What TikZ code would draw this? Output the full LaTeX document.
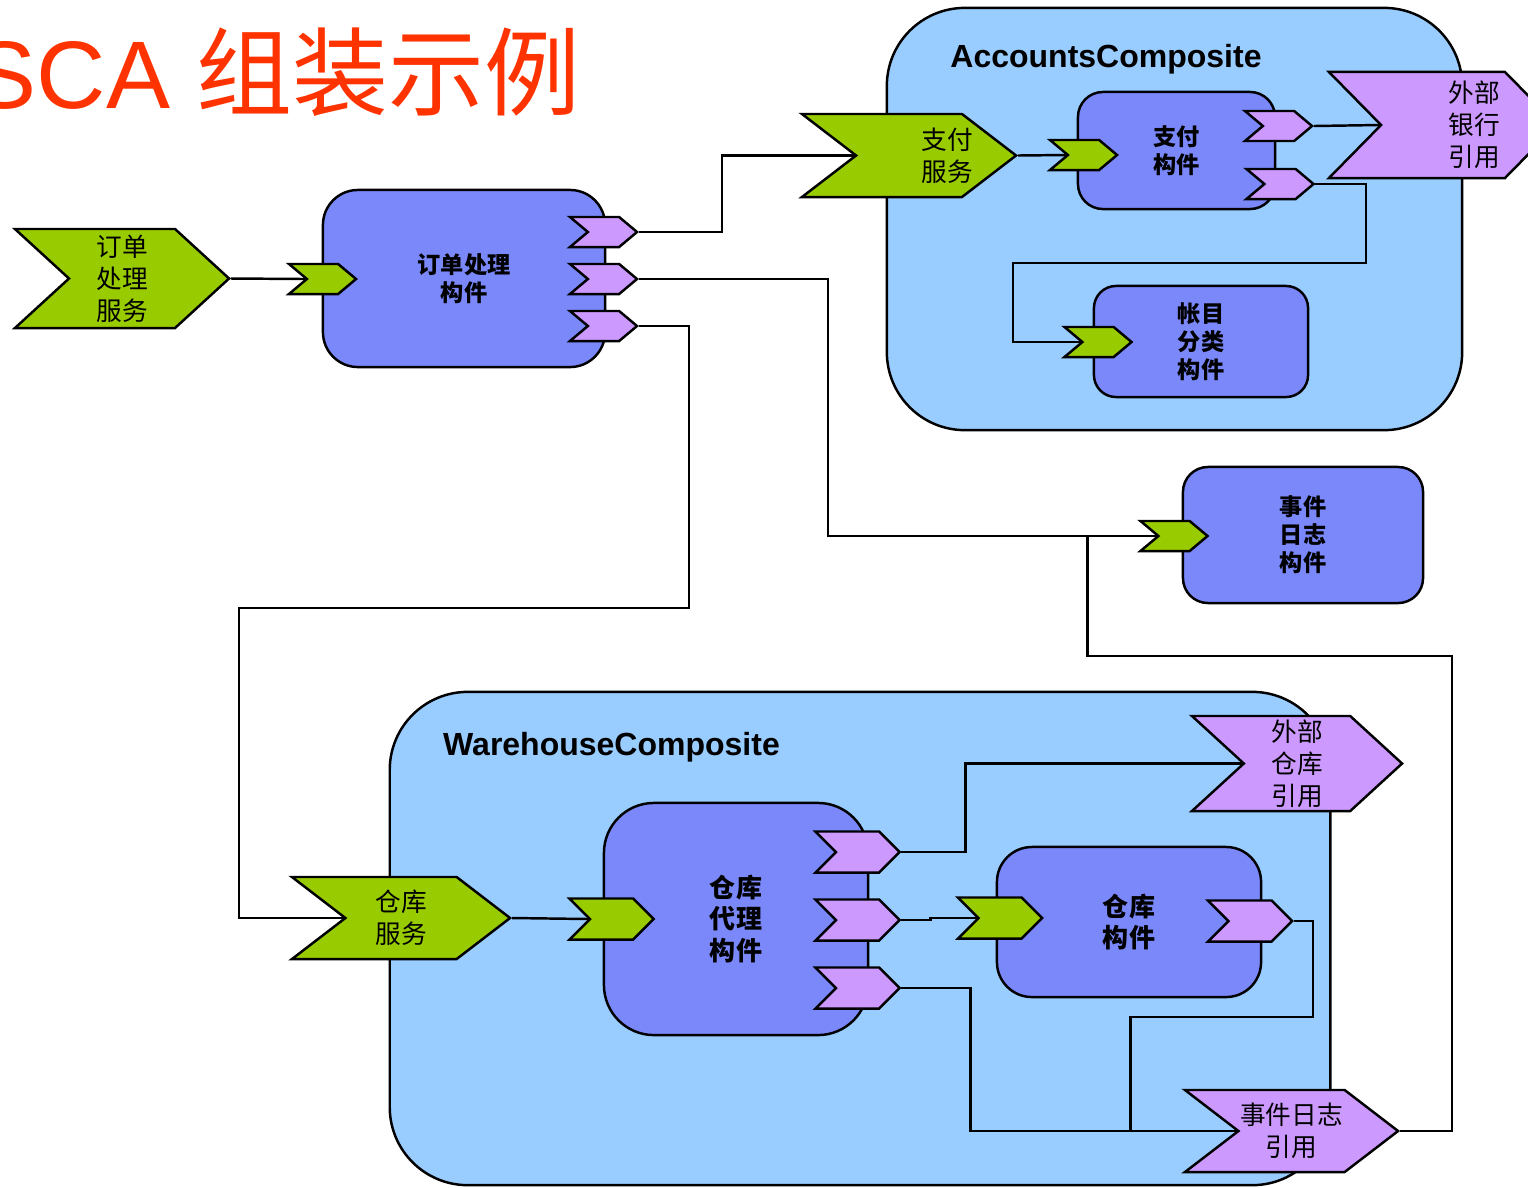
\documentclass[tikz,border=0pt]{standalone}
\usepackage{fontspec}
\setmainfont{Liberation Sans}
\newfontfamily\cjk{Noto Sans CJK SC}
\usetikzlibrary{shapes.symbols,positioning}
\definecolor{compblue}{HTML}{99CCFF}
\definecolor{partblue}{HTML}{7A88FA}
\definecolor{svcgreen}{HTML}{99CC00}
\definecolor{refpurple}{HTML}{CC99FF}
\definecolor{titlered}{HTML}{FF3300}
\tikzset{
  composite/.style={draw,fill=compblue,rounded corners=0.78cm,line width=0.7pt},
  component/.style={draw,fill=partblue,rounded corners=0.3cm,line width=0.7pt,inner sep=0pt,align=center,font=\cjk\bfseries\fontsize{6.6}{8}\selectfont},
  bigpart/.style={component,font=\cjk\bfseries\fontsize{7.4}{9}\selectfont},
  chevtext/.style={align=center,font=\cjk\fontsize{7.3}{9.1}\selectfont},
  chevron/.style={signal,signal from=west,signal to=east,draw,line width=0.7pt,inner sep=0pt,chevtext},
  service/.style={chevron,fill=svcgreen},
  reference/.style={chevron,fill=refpurple},
  port/.style={minimum width=0.67cm,minimum height=0.3cm,signal pointer angle=80},
  bigport/.style={minimum width=0.84cm,minimum height=0.41cm,signal pointer angle=90},
  wire/.style={line width=0.7pt},
  comptitle/.style={anchor=base,inner sep=0pt,font=\bfseries\fontsize{9.1}{11}\selectfont}
}
\begin{document}
\begin{tikzpicture}[x=0.01cm,y=-0.01cm]
\useasboundingbox (0,0) rectangle (1528,1187);
\node (title) [anchor=base west,inner sep=0pt,text=titlered,font=\fontsize{27.3}{30}\selectfont] at (-28,108) {SCA {\cjk 组装示例}};

\node (accounts) [composite,minimum width=5.75cm,minimum height=4.22cm] at (1174.5,219) {};
\node (acctitle) [comptitle] at (1106,67) {AccountsComposite};
\node (warehouse) [composite,minimum width=9.4cm,minimum height=4.93cm] at (860,938.5) {};
\node (whtitle) [comptitle] at (611.5,755) {WarehouseComposite};

\node (order) [component,minimum width=2.82cm,minimum height=1.77cm,rounded corners=0.35cm] at (464,278.5) {订单处理\\构件};
\node (pay) [component,minimum width=1.97cm,minimum height=1.17cm,rounded corners=0.25cm] at (1176.5,150.5) {支付\\构件};
\node (ledger) [component,minimum width=2.14cm,minimum height=1.11cm,rounded corners=0.22cm] at (1201,341.5) {帐目\\分类\\构件};
\node (log) [component,minimum width=2.4cm,minimum height=1.36cm,rounded corners=0.25cm] at (1303,535) {事件\\日志\\构件};
\node (proxy) [bigpart,minimum width=2.64cm,minimum height=2.32cm,rounded corners=0.5cm] at (736,919) {仓库\\代理\\构件};
\node (store) [bigpart,minimum width=2.64cm,minimum height=1.5cm,rounded corners=0.35cm] at (1129,922) {仓库\\构件};

\node (os) [service,minimum width=2.14cm,minimum height=0.99cm,signal pointer angle=85] at (122,278.5) {订单\\处理\\服务};
\node (ps) [service,minimum width=2.14cm,minimum height=0.83cm,signal pointer angle=75,label={[chevtext,xshift=0.38cm]center:支付\\服务}] at (909,155.5) {};
\node (bank) [reference,minimum width=2.28cm,minimum height=1.06cm,signal pointer angle=91,label={[chevtext,xshift=0.31cm]center:外部\\银行\\引用}] at (1443,125) {};
\node (ws) [service,minimum width=2.18cm,minimum height=0.82cm,signal pointer angle=75] at (401,918) {仓库\\服务};
\node (wr) [reference,minimum width=2.1cm,minimum height=0.95cm,signal pointer angle=85] at (1297,763.5) {外部\\仓库\\引用};
\node (er) [reference,minimum width=2.13cm,minimum height=0.82cm,signal pointer angle=75] at (1291.5,1131) {事件日志\\引用};

\node (orderin) [service,port] at (322.5,279) {};
\node (orderr1) [reference,port] at (603.5,232) {};
\node (orderr2) [reference,port] at (603.5,279) {};
\node (orderr3) [reference,port] at (603.5,326) {};
\node (payin) [service,port] at (1083.5,155) {};
\node (payr1) [reference,port] at (1278.5,126) {};
\node (payr2) [reference,port] at (1280,184) {};
\node (ledgerin) [service,port] at (1098,342) {};
\node (login) [service,port] at (1174,536) {};
\node (proxyin) [service,bigport] at (611.5,919) {};
\node (proxyr1) [reference,bigport] at (857.5,852) {};
\node (proxyr2) [reference,bigport] at (857.5,920) {};
\node (proxyr3) [reference,bigport] at (857.5,988) {};
\node (storein) [service,bigport] at (1000,918) {};
\node (storer1) [reference,bigport] at (1250,921) {};

\draw[wire] (os.east) -- (orderin.west);
\draw[wire] (orderr1.east) -- ++(83,0) |- (ps.west);
\draw[wire] (orderr2.east) -- ++(189,0) |- (login.west);
\draw[wire] (orderr3.east) -| (689,608) -| (239,918) -- (ws.west);
\draw[wire] (ps.east) -- (payin.west);
\draw[wire] (payr1.east) -- (bank.west);
\draw[wire] (payr2.east) -| (1366,263) -| (1013,342) -- (ledgerin.west);
\draw[wire] (ws.east) -- (proxyin.west);
\draw[wire] (proxyr1.east) -- ++(64,0) |- (wr.west);
\draw[wire] (proxyr2.east) -- ++(29,0) |- (storein.west);
\draw[wire] (proxyr3.east) -- ++(69,0) |- (er.west);
\draw[wire] (storer1.east) -| (1313,1017) -| ([xshift=-1.06cm]er.west);
\draw[wire] (er.east) -| (1452,656) -| ([xshift=-0.69cm]login.west);
\end{tikzpicture}
\end{document}
